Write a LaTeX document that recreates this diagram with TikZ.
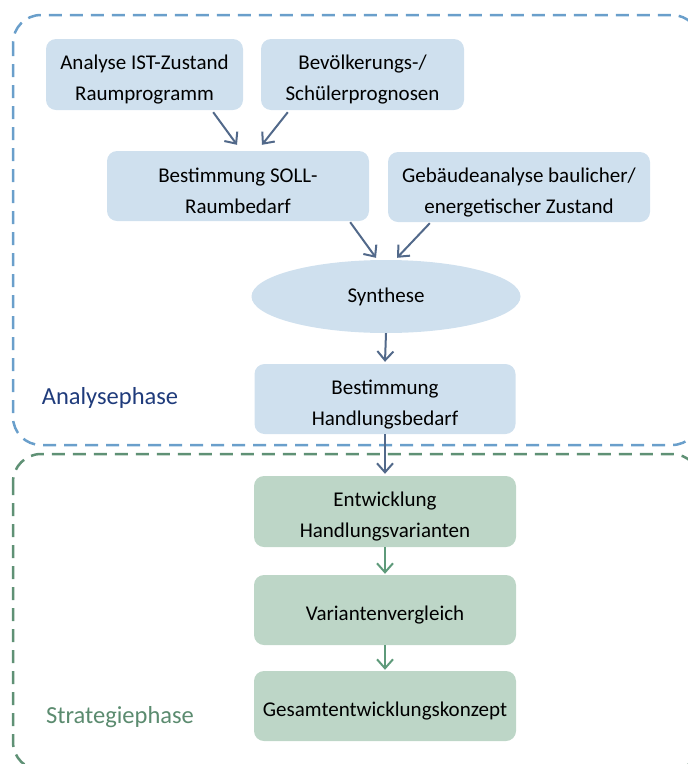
\documentclass[tikz,border=0pt]{standalone}
\usepackage{fontspec}
\setmainfont{Carlito}
\usetikzlibrary{arrows.meta,shapes.geometric}
\definecolor{boxblue}{HTML}{CFE0EE}
\definecolor{boxgreen}{HTML}{BDD6C7}
\definecolor{dashblue}{HTML}{6A9FCB}
\definecolor{dashgreen}{HTML}{5F9175}
\definecolor{arrblue}{HTML}{52698A}
\definecolor{arrgreen}{HTML}{5E9A7A}
\definecolor{navy}{HTML}{1F3B7B}
\definecolor{labgreen}{HTML}{5B8B6F}
\newcommand{\txtpush}{\rule{0pt}{25pt}}
\begin{document}
\begin{tikzpicture}[x=1pt,y=-1pt,
  bbox/.style={rectangle, rounded corners=10pt, fill=boxblue, align=center,
    font=\fontsize{21}{31}\selectfont, inner sep=0pt, text=black},
  gbox/.style={bbox, fill=boxgreen},
  phasebox/.style={line width=2.5pt, dash pattern=on 13pt off 8pt, rounded corners=28pt},
  arr/.style={draw=arrblue, line width=2pt, -{Straight Barb[length=9pt,width=16pt]}},
  garr/.style={arr, draw=arrgreen},
  phaselabel/.style={font=\fontsize{24.5}{28}\selectfont, inner sep=0pt}]
\useasboundingbox (0,0) rectangle (688,764);
\draw[phasebox, dashblue] (13,15) rectangle (700,445);
\draw[phasebox, dashgreen] (13,454) rectangle (700,770);

\node[bbox, minimum width=197pt, minimum height=71pt] (b1) at (144.5,74.5) {\txtpush Analyse IST-Zustand\\Raumprogramm};
\node[bbox, minimum width=203pt, minimum height=71pt] (b2) at (362.5,74.5) {\txtpush Bevölkerungs-/\\Schülerprognosen};
\node[bbox, minimum width=262pt, minimum height=70pt] (b3) at (238,186) {\txtpush Bestimmung SOLL-\\Raumbedarf};
\node[bbox, minimum width=262pt, minimum height=70pt] (b4) at (519,187) {\txtpush Gebäudeanalyse baulicher/\\energetischer Zustand};
\node[ellipse, fill=boxblue, minimum width=269pt, minimum height=73pt, inner sep=0pt,
  font=\fontsize{21}{31}\selectfont, text=black] (syn) at (386,296.5) {Synthese};
\node[bbox, minimum width=261pt, minimum height=70pt] (b5) at (385,399) {\txtpush Bestimmung\\Handlungsbedarf};
\node[gbox, minimum width=262pt, minimum height=71pt] (b6) at (385,511.5) {\txtpush Entwicklung\\Handlungsvarianten};
\node[gbox, minimum width=262pt, minimum height=70pt] (b7) at (385,610) {\txtpush Variantenvergleich};
\node[gbox, minimum width=262pt, minimum height=70pt] (b8) at (385,706) {\txtpush Gesamtentwicklungskonzept};

\node[phaselabel, text=navy] (la) at (110,398) {Analysephase};
\node[phaselabel, text=labgreen] (ls) at (120,717) {Strategiephase};

\draw[arr] ([xshift=-30pt,yshift=-2pt]b1.south east) -- ([xshift=-1pt,yshift=6pt]b3.north);
\draw[arr] ([xshift=27pt,yshift=-2pt]b2.south west) -- ([xshift=24pt,yshift=6pt]b3.north);
\draw[arr] ([xshift=-19pt,yshift=-1pt]b3.south east) -- ([xshift=-10pt,yshift=2pt]syn.north);
\draw[arr] ([xshift=42pt,yshift=-1pt]b4.south west) -- ([xshift=11pt,yshift=2pt]syn.north);
\draw[arr] (syn.south) -- ([yshift=2pt]b5.north);
\draw[arr] (b5.south) -- ([yshift=2pt]b6.north);
\draw[garr] (b6.south) -- ([yshift=1pt]b7.north);
\draw[garr] (b7.south) -- ([yshift=1pt]b8.north);
\end{tikzpicture}
\end{document}
